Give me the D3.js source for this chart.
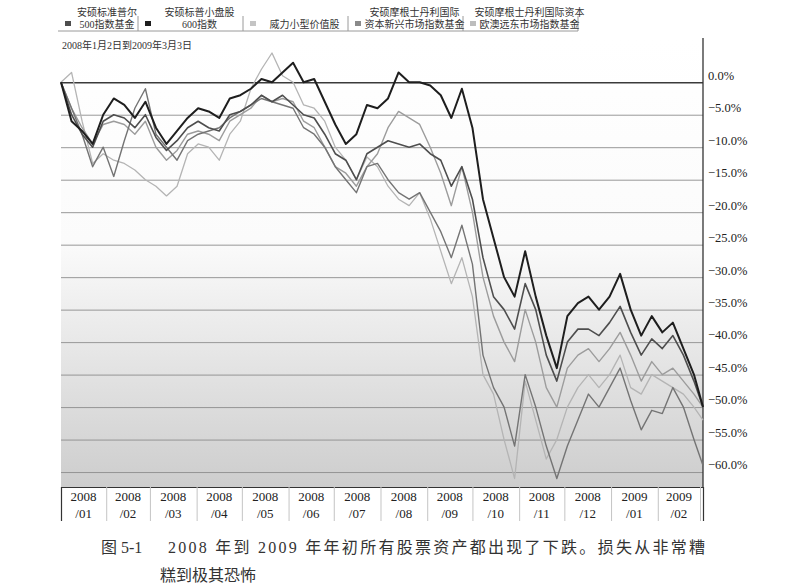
<html>
<head>
<meta charset="UTF-8">
<script src="https://cdn.jsdelivr.net/npm/d3@7/dist/d3.min.js"></script>
<style>
  body { margin: 0; background: #fff; }
  svg { display: block; }
</style>
</head>
<body>
<div id="chart"></div>
<script>

// weekly readings, % change since 2008-01-02
const dates = ["2008-01-02","2008-01-09","2008-01-16","2008-01-23","2008-01-30","2008-02-06","2008-02-13","2008-02-20","2008-02-27",
  "2008-03-05","2008-03-12","2008-03-19","2008-03-26","2008-04-02","2008-04-09","2008-04-16","2008-04-23","2008-04-30",
  "2008-05-07","2008-05-14","2008-05-21","2008-05-28","2008-06-04","2008-06-11","2008-06-18","2008-06-25",
  "2008-07-02","2008-07-09","2008-07-16","2008-07-23","2008-07-30","2008-08-06","2008-08-13","2008-08-20","2008-08-27",
  "2008-09-03","2008-09-10","2008-09-17","2008-09-24","2008-10-01","2008-10-08","2008-10-15","2008-10-22","2008-10-29",
  "2008-11-05","2008-11-12","2008-11-19","2008-11-26","2008-12-03","2008-12-10","2008-12-17","2008-12-24","2008-12-31",
  "2009-01-07","2009-01-14","2009-01-21","2009-01-28","2009-02-04","2009-02-11","2009-02-18","2009-02-25","2009-03-03"];

const sp500 = [0,-5,-8,-10,-6,-5,-5.5,-7,-5,-8.5,-10.5,-9,-7,-6,-7,-7.5,-5,-4.5,-3.5,-2,-3,-2,-3.5,-5,-5.5,-8,-11,-12,-15,-11,-10,-9,-9.5,-10,-9.5,-11,-12,-16,-13,-18,-27,-33,-35,-38,-31,-35,-42,-46,-40,-38,-38,-39,-37,-34.5,-38.5,-42,-39.5,-41,-39,-42,-46,-50];
const sp600 = [0,-6,-7.5,-9.5,-5,-2.5,-3.5,-5.5,-3,-7,-9.5,-7.5,-5.5,-4,-4.5,-5.5,-2.5,-2,-1,0.5,0,1.5,3,0,0.5,-3,-6.5,-9.5,-8,-3.5,-4,-2.5,1.5,0,0,-0.5,-2,-5.5,-1,-7,-18,-24,-30,-33,-26,-33,-39,-44,-36,-34,-33,-35,-33,-29.5,-35,-39,-36,-38.5,-37,-41,-45,-50];
const smallValue = [0,-4,-7,-9.5,-6.5,-6,-6.5,-8,-6,-10,-12,-10.5,-8,-7.5,-8,-9,-6,-5,-4,-2,-3,-2.5,-3,-6,-7,-10,-13,-14,-16,-13,-11,-7,-4.5,-5.5,-6.5,-10,-14,-19,-13,-20,-30,-36,-40,-43,-35,-40,-47,-50,-44,-42,-41,-43,-41,-38.5,-42,-46,-43,-45,-44,-46,-48,-50];
const emerging = [0,1.5,-6,-12.5,-11,-12,-12.5,-13.5,-15,-16,-17.5,-16,-11,-9.5,-10,-12,-8,-6,-1,2,4.5,1,0,-3.5,-4,-6,-10,-12,-15,-11.5,-13,-16,-18,-19,-17,-21,-26,-31,-27,-33,-45,-48,-55,-61,-46,-52,-58,-55,-50,-47,-45,-47,-45,-42,-47,-48,-45,-46,-47,-48,-50,-52];
const eafe = [0,-4,-8,-13,-10,-14.5,-9,-4,-1,-8,-10,-12,-9,-8,-7.5,-7,-5.5,-4.5,-3.5,-2.5,-3,-3.5,-4,-7,-8,-10,-13,-15,-17,-13,-12.5,-15,-17,-18,-17,-20,-23,-27,-22,-28,-42,-47,-50,-56,-45,-50,-56,-61,-56,-52,-48,-50,-47,-44,-49,-53.5,-50.5,-51,-47,-50,-55,-59];

const legendTop = ["安硕标准普尔", "安硕标普小盘股", "", "安硕摩根士丹利国际", "安硕摩根士丹利国际资本"];
const legendBottom = ["500指数基金", "600指数", "威力小型价值股", "资本新兴市场指数基金", "欧澳远东市场指数基金"];

const yTicks = [0,-5,-10,-15,-20,-25,-30,-35,-40,-45,-50,-55,-60];
const monthLabels = ["2008/01","2008/02","2008/03","2008/04","2008/05","2008/06","2008/07","2008/08","2008/09","2008/10","2008/11","2008/12","2009/01","2009/02"];

const subtitle = "2008年1月2日到2009年3月3日";
const captionNo = "图 5-1";
const captionLine1 = "2008 年到 2009 年年初所有股票资产都出现了下跌。损失从非常糟";
const captionLine2 = "糕到极其恐怖";

const W = 786, H = 584;
const L = 61, R = 703, T = 40, B = 487;
const font = "'Liberation Serif','Noto Sans CJK SC',serif";

const parse = d3.timeParse("%Y-%m-%d");
const xDates = dates.map(parse);

const x = d3.scaleTime().domain([xDates[0], xDates[xDates.length - 1]]).range([L, R]);
const y = d3.scaleLinear().domain([-62.3, 6.5]).range([B, T]);

const svg = d3.select("#chart").append("svg")
  .attr("width", W).attr("height", H)
  .style("font-family", font);

svg.append("rect").attr("width", W).attr("height", H).attr("fill", "#fff");

// scan shading, darker towards the bottom
const grad = svg.append("defs").append("linearGradient")
  .attr("id", "shade").attr("x1", 0).attr("y1", 0).attr("x2", 0).attr("y2", 1);
grad.append("stop").attr("offset", "0").attr("stop-color", "#fff");
grad.append("stop").attr("offset", "0.45").attr("stop-color", "#fbfbfb");
grad.append("stop").attr("offset", "1").attr("stop-color", "#cdcdcd");
svg.append("rect").attr("x", L).attr("y", T).attr("width", R - L).attr("height", B - T)
  .attr("fill", "url(#shade)");

// right axis with gridlines
const yAxis = svg.append("g")
  .attr("transform", `translate(${R},0)`)
  .call(d3.axisRight(y).tickValues(yTicks).tickSize(-(R - L)).tickPadding(5)
    .tickFormat(d => (d < 0 ? "\u2212" : "") + Math.abs(d).toFixed(1) + "%"));
yAxis.select(".domain").remove();
yAxis.selectAll(".tick line")
  .attr("stroke", d => d === 0 ? "#3a3a3a" : "#8c8c8c")
  .attr("stroke-width", d => d === 0 ? 1.4 : 0.9);
yAxis.selectAll(".tick text")
  .attr("dy", "-0.25em")
  .attr("fill", "#222")
  .style("font-family", font)
  .style("font-size", "12.5px");

svg.append("line").attr("x1", R).attr("x2", R).attr("y1", T - 2).attr("y2", B)
  .attr("stroke", "#333").attr("stroke-width", 1.3);

// bottom axis: month separators
const monthStarts = d3.timeMonth.range(d3.timeMonth.ceil(xDates[0]), xDates[xDates.length - 1]);
const xAxis = svg.append("g")
  .attr("transform", `translate(0,${B})`)
  .call(d3.axisBottom(x).tickValues(monthStarts).tickSize(34).tickFormat(""));
xAxis.select(".domain").attr("stroke", "#333").attr("stroke-width", 1.2);
xAxis.selectAll(".tick line").attr("stroke", "#c4c4c4");

const bounds = [xDates[0], ...monthStarts, xDates[xDates.length - 1]];
const mLab = svg.append("g").selectAll("text").data(monthLabels).join("text")
  .attr("text-anchor", "middle")
  .attr("fill", "#222")
  .style("font-size", "13px")
  .attr("transform", (d, i) => `translate(${(x(bounds[i]) + x(bounds[i + 1])) / 2},0)`);
mLab.append("tspan").attr("x", 0).attr("y", B + 14).text(d => d.split("/")[0]);
mLab.append("tspan").attr("x", 0).attr("y", B + 31).text(d => "/" + d.split("/")[1]);

// series
const series = [
  { values: emerging, color: "#b4b4b4", width: 1.3 },
  { values: smallValue, color: "#9c9c9c", width: 1.4 },
  { values: eafe, color: "#747474", width: 1.4 },
  { values: sp500, color: "#4e4e4e", width: 1.6 },
  { values: sp600, color: "#1e1e1e", width: 2 }
];
const line = d3.line().x((d, i) => x(xDates[i])).y(d => y(d)).curve(d3.curveLinear);
svg.append("g").selectAll("path").data(series).join("path")
  .attr("d", s => line(s.values))
  .attr("fill", "none")
  .attr("stroke", s => s.color)
  .attr("stroke-width", s => s.width)
  .attr("stroke-linejoin", "round");

// legend
const cells = [58, 138, 243, 348, 463, 578];
const legendColors = ["#4e4e4e", "#1e1e1e", "#c4c4c4", "#8a8a8a", "#bdbdbd"];
const lg = svg.append("g").style("font-size", "10px").attr("fill", "#333");
lg.append("line").attr("x1", cells[0]).attr("x2", cells[cells.length - 1]).attr("y1", 31).attr("y2", 31)
  .attr("stroke", "#9a9a9a");
legendBottom.forEach((label, i) => {
  const mx = cells[i] + 10;
  const cx = (mx + 8 + cells[i + 1]) / 2;
  lg.append("line").attr("x1", cells[i + 1]).attr("x2", cells[i + 1]).attr("y1", 16).attr("y2", 31)
    .attr("stroke", "#9a9a9a");
  lg.append("rect").attr("x", mx - 3).attr("y", 21).attr("width", 6).attr("height", 5)
    .attr("fill", legendColors[i]);
  lg.append("text").attr("x", cx).attr("y", 16).attr("text-anchor", "middle").text(legendTop[i]);
  lg.append("text").attr("x", cx).attr("y", 28).attr("text-anchor", "middle").text(label);
});

svg.append("text").attr("x", 62).attr("y", 49)
  .attr("fill", "#333").style("font-size", "10px").text(subtitle);

// caption
const cap = svg.append("g").attr("fill", "#333").style("font-size", "16px");
cap.append("text").attr("x", 101).attr("y", 553).text(captionNo);
cap.append("text").attr("x", 168).attr("y", 553)
  .attr("textLength", 537).attr("lengthAdjust", "spacing").text(captionLine1);
cap.append("text").attr("x", 160).attr("y", 581).text(captionLine2);

</script>
</body>
</html>
